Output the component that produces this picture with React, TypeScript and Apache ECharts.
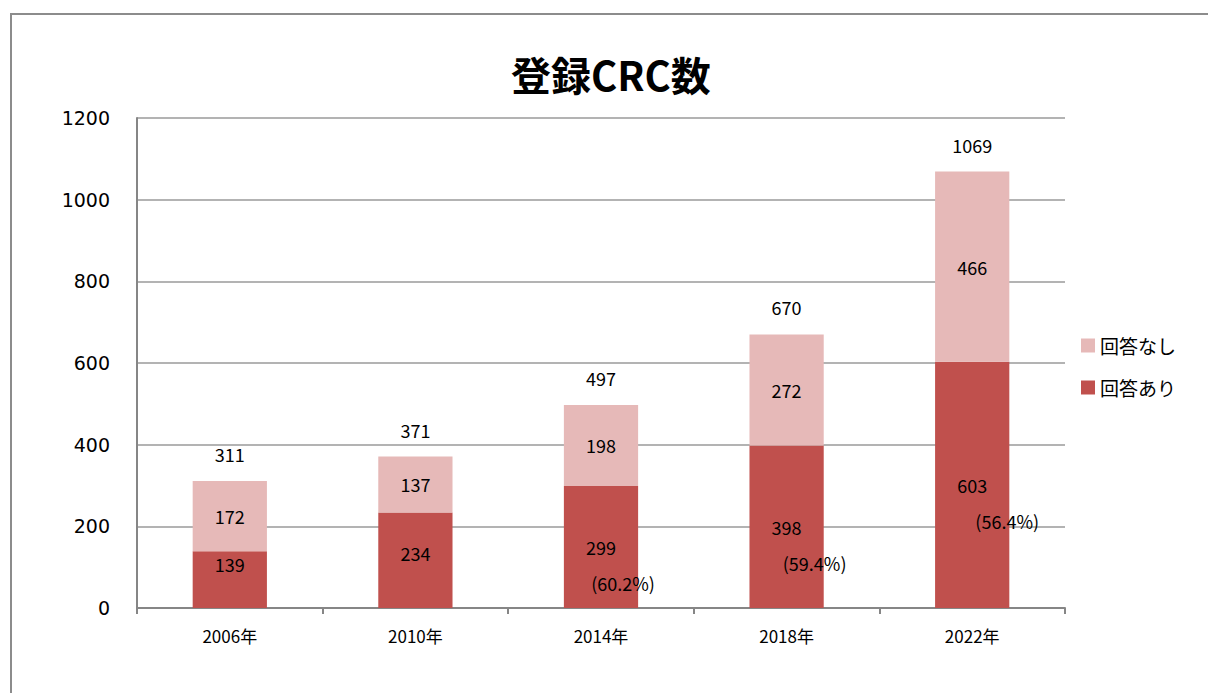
import React, { useEffect, useRef } from "react";
import * as echarts from "echarts";

const categories = ["2006年", "2010年", "2014年", "2018年", "2022年"];
const answered = [139, 234, 299, 398, 603];
const notAnswered = [172, 137, 198, 272, 466];
const totals = [311, 371, 497, 670, 1069];
const percents = ["", "", "(60.2%)", "(59.4%)", "(56.4%)"];
const yTicks = { min: 0, max: 1200, interval: 200 };

const FONT = "'Noto Sans CJK JP', 'DejaVu Sans', sans-serif";
// label placement tweaks (styling only)
const pctShift = [0, 0, 44, 56, 70];
const soloShift = [-16, -7, 0, 0, 0];

export default function App() {
  const ref = useRef<HTMLDivElement>(null);
  useEffect(() => {
    const chart = echarts.init(ref.current!, null, { renderer: "svg" });
    const answeredData = answered.map((v, i) => {
      const p = percents[i];
      if (p) {
        return {
          value: v,
          label: {
            formatter: `{a|${v}}\n{p${i}|${p}}`,
            offset: [0, 18],
          },
        };
      }
      return { value: v, label: { offset: [0, soloShift[i]] } };
    });
    const rich: Record<string, any> = {
      a: { fontFamily: FONT, fontSize: 18, color: "#000", lineHeight: 36 },
    };
    pctShift.forEach((s, i) => {
      rich["p" + i] = {
        fontFamily: FONT,
        fontSize: 18,
        color: "#000",
        lineHeight: 36,
        padding: [0, 0, 0, s],
      };
    });
    chart.setOption({
      animation: false,
      backgroundColor: "#fff",
      title: {
        text: "登録CRC数",
        left: 506,
        top: 49,
        textStyle: { fontFamily: FONT, fontSize: 40, fontWeight: "bold", color: "#000" },
      },
      graphic: [
        {
          type: "rect",
          shape: { x: 11, y: 14, width: 1400, height: 900 },
          style: { fill: "none", stroke: "#8c8c8c", lineWidth: 2 },
          silent: true,
        },
      ],
      legend: {
        orient: "vertical",
        left: 1076,
        top: 331,
        itemGap: 23,
        itemWidth: 14,
        itemHeight: 14,
        icon: "rect",
        data: ["回答なし", "回答あり"],
        textStyle: { fontFamily: FONT, fontSize: 19, color: "#000" },
      },
      grid: { left: 137, right: 143, top: 118, bottom: 85 },
      xAxis: {
        type: "category",
        data: categories,
        axisLine: { lineStyle: { color: "#868686", width: 2 } },
        axisTick: { show: true, length: 6, lineStyle: { color: "#868686", width: 2 } },
        axisLabel: { fontFamily: FONT, fontSize: 17, color: "#000", margin: 19 },
      },
      yAxis: {
        type: "value",
        min: yTicks.min,
        max: yTicks.max,
        interval: yTicks.interval,
        axisLine: { show: true, lineStyle: { color: "#868686", width: 2 } },
        axisTick: { show: false },
        splitLine: { lineStyle: { color: "#9a9a9a", width: 1.5 } },
        axisLabel: {
          fontFamily: "'DejaVu Sans', sans-serif",
          fontSize: 19,
          color: "#000",
          margin: 27,
          formatter: (v: number) => String(v),
        },
      },
      series: [
        {
          name: "回答あり",
          type: "bar",
          stack: "t",
          barWidth: "40%",
          data: answeredData,
          itemStyle: { color: "#C0504D" },
          label: {
            show: true,
            position: "inside",
            fontFamily: FONT,
            fontSize: 18,
            color: "#000",
            rich,
          },
        },
        {
          name: "回答なし",
          type: "bar",
          stack: "t",
          barWidth: "40%",
          data: notAnswered,
          itemStyle: { color: "#E6B9B8" },
          label: {
            show: true,
            position: "inside",
            fontFamily: FONT,
            fontSize: 18,
            color: "#000",
          },
        },
        {
          name: "合計",
          type: "scatter",
          data: totals,
          symbolSize: 0,
          itemStyle: { color: "#000", opacity: 1 },
          label: {
            show: true,
            position: "top",
            distance: 18,
            fontFamily: FONT,
            fontSize: 18,
            color: "#000",
            opacity: 1,
          },
        },
      ],
    });
    return () => chart.dispose();
  }, []);
  return (
    <div
      ref={ref}
      style={{ position: "absolute", left: 0, top: 0, width: 1208, height: 693 }}
    />
  );
}
